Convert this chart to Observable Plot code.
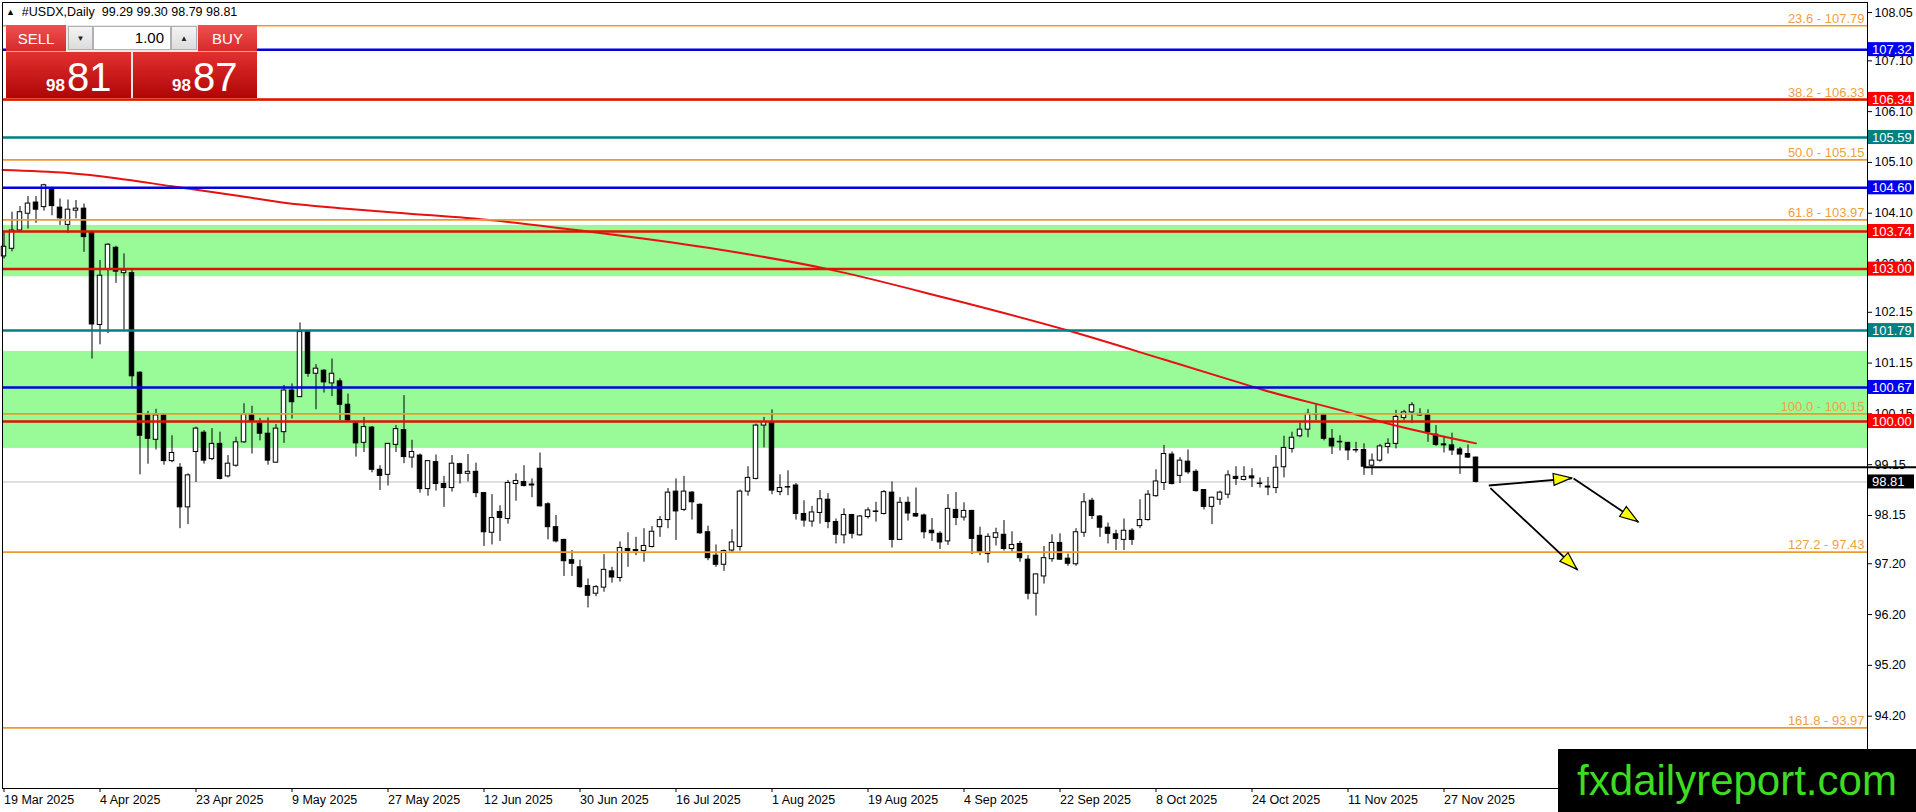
<!DOCTYPE html>
<html><head><meta charset="utf-8">
<script src="https://cdn.jsdelivr.net/npm/d3@7"></script>
<script src="https://cdn.jsdelivr.net/npm/@observablehq/plot@0.6"></script>
<style>
body{margin:0;background:#fff;font-family:"Liberation Sans",Arial,sans-serif;}
#wrap{position:relative;width:1916px;height:812px;overflow:hidden;background:#fff;}
#wrap svg{position:absolute;left:0;top:0;}
.abs{position:absolute;box-sizing:border-box;}
.btn{color:#fff;font-size:15px;display:flex;align-items:center;justify-content:center;background:linear-gradient(#f05050,#d42a2a);border-bottom:1px solid #f7a0a0;}
.gray{background:linear-gradient(#f4f4f4,#dcdcdc);border:1px solid #b0b0b0;font-size:8px;color:#222;display:flex;align-items:center;justify-content:center;}
.pbox{background:linear-gradient(#e23030,#b00606);color:#fff;}
.small{position:absolute;font-weight:bold;font-size:17px;}
.big{position:absolute;font-size:40px;line-height:40px;}
#wm{position:absolute;left:1558px;top:749px;width:358px;height:63px;background:#000;color:#3ddc22;font-size:42px;line-height:63px;text-align:center;font-family:"Liberation Sans",Arial,sans-serif;}
</style></head>
<body><div id="wrap">
</div>
<script>
// ---- data ----
const open  = [103.25,103.40,103.76,104.09,104.31,104.22,104.58,104.21,103.87,104.15,104.19,103.73,101.90,103.00,103.42,102.92,102.92,100.96,100.12,99.64,100.12,99.22,99.09,98.31,99.40,99.78,99.26,99.56,98.92,99.13,99.59,100.14,99.96,99.76,99.19,99.79,100.61,100.48,101.76,100.94,101.00,100.75,100.79,100.33,99.96,99.58,99.88,99.05,98.95,99.54,99.83,99.29,99.33,98.67,99.20,98.77,98.69,99.16,98.97,99.01,98.59,97.81,98.22,98.08,98.77,98.81,98.76,99.07,98.37,97.92,97.67,97.27,97.13,96.76,96.61,96.73,97.05,96.92,97.49,97.47,97.45,97.53,97.92,98.06,98.62,98.26,98.60,98.36,97.82,97.36,97.18,97.46,97.53,98.62,98.87,99.92,99.99,98.61,98.71,98.74,98.18,98.03,98.20,98.46,98.02,97.76,98.16,97.76,98.12,98.23,98.18,98.60,97.67,98.40,98.18,98.15,97.85,97.79,97.64,98.26,98.11,98.24,97.75,97.39,97.71,97.77,97.49,97.59,97.28,96.61,96.95,97.29,97.61,97.30,97.19,97.81,98.44,98.13,97.91,97.78,97.67,97.85,97.94,98.06,98.53,98.79,99.35,98.93,99.21,99.01,98.65,98.32,98.46,98.56,98.91,98.85,98.92,98.78,98.72,98.69,99.10,99.46,99.71,99.84,100.13,100.13,99.66,99.60,99.58,99.44,99.44,99.13,99.23,99.50,99.56,100.07,100.18,100.12,100.14,99.74,99.55,99.53,99.45,99.36,99.29];
const high  = [103.75,104.12,104.23,104.43,104.43,104.67,104.61,104.38,104.36,104.35,104.28,103.75,103.17,103.50,103.45,103.30,102.97,100.98,100.20,100.24,100.14,99.72,99.17,98.97,99.89,99.82,99.86,99.79,99.33,99.69,100.35,100.30,100.06,100.07,99.94,100.71,100.74,101.94,101.78,101.12,101.02,101.23,100.84,100.54,99.99,100.08,99.90,99.13,99.57,99.92,100.51,99.63,99.36,99.23,99.34,98.92,99.33,99.18,99.35,99.18,98.60,98.56,98.34,98.84,98.97,99.13,98.87,99.38,98.40,98.15,97.68,97.46,97.27,96.90,96.77,97.38,97.13,97.63,97.81,97.72,97.89,97.93,98.13,98.68,98.87,98.92,98.62,98.38,97.94,97.57,97.47,97.87,98.65,99.11,99.95,100.08,100.23,98.95,99.03,98.78,98.44,98.33,98.64,98.58,98.08,98.28,98.17,98.15,98.30,98.41,98.64,98.81,98.50,98.51,98.69,98.18,98.09,97.83,98.56,98.60,98.40,98.25,97.92,97.79,97.90,98.05,97.83,97.64,97.36,97.00,97.54,97.77,97.79,97.39,97.89,98.58,98.49,98.15,98.00,97.86,98.08,97.89,98.46,98.64,99.05,99.53,99.40,99.29,99.44,99.05,98.66,98.51,98.63,99.03,99.11,99.11,99.07,98.89,98.90,99.33,99.71,99.79,99.97,100.24,100.33,100.15,99.84,99.72,99.59,99.59,99.56,99.36,99.55,99.66,100.22,100.22,100.37,100.25,100.23,99.92,99.71,99.77,99.49,99.54,99.30];
const low   = [103.20,103.34,103.74,103.79,103.90,104.14,104.05,103.86,103.70,103.99,103.33,101.23,101.51,101.73,102.72,101.80,100.67,98.95,99.16,99.44,99.14,99.19,97.89,97.97,98.80,99.16,99.23,98.85,98.89,99.10,99.57,99.36,99.62,99.14,99.18,99.57,100.05,100.47,100.87,100.23,100.56,100.49,100.02,100.00,99.30,99.39,98.99,98.64,98.73,99.39,99.17,99.08,98.59,98.53,98.63,98.31,98.61,98.77,98.81,98.50,97.54,97.57,97.64,97.98,98.43,98.71,98.50,98.32,97.67,97.61,96.95,96.95,96.72,96.33,96.55,96.64,96.82,96.84,97.13,97.36,97.23,97.51,97.72,97.89,97.66,98.23,98.06,97.78,97.26,97.13,97.05,97.40,97.45,98.53,98.85,99.48,98.56,98.54,98.54,98.06,97.92,97.92,97.98,97.89,97.59,97.59,97.69,97.74,98.08,98.02,98.16,97.51,97.66,98.04,98.11,97.69,97.64,97.48,97.56,97.95,98.04,97.38,97.36,97.21,97.55,97.45,97.43,97.23,96.49,96.17,96.80,97.23,97.27,97.15,97.15,97.72,98.07,97.72,97.59,97.46,97.46,97.56,97.89,98.04,98.51,98.64,98.75,98.78,98.96,98.61,98.26,97.97,98.35,98.48,98.74,98.83,98.70,98.69,98.54,98.58,98.89,99.38,99.68,99.68,100.02,99.62,99.35,99.42,99.23,99.38,98.94,98.94,99.20,99.36,99.46,100.02,99.96,100.10,99.59,99.51,99.38,99.33,98.96,99.27,98.79];
const close = [103.44,103.76,104.12,104.29,104.17,104.65,104.24,104.00,104.17,104.19,103.63,101.91,102.87,103.48,102.95,102.97,100.89,99.72,99.66,100.12,99.22,99.38,98.31,98.94,99.86,99.23,99.56,98.87,99.17,99.59,100.14,99.99,99.76,99.23,99.86,100.61,100.38,101.76,100.94,101.04,100.77,100.94,100.33,100.02,99.57,99.89,99.05,98.93,99.56,99.85,99.30,99.40,98.67,99.22,98.77,98.69,99.17,98.97,99.01,98.59,97.82,98.10,98.10,98.79,98.83,98.73,98.74,98.33,97.92,97.64,97.25,97.20,96.74,96.57,96.74,97.08,96.93,97.51,97.45,97.45,97.55,97.83,98.06,98.60,98.23,98.62,98.41,97.80,97.31,97.18,97.45,97.62,98.62,98.89,99.92,99.99,98.64,98.69,98.70,98.18,98.05,98.21,98.47,98.02,97.77,98.16,97.79,98.13,98.25,98.22,98.61,97.67,98.40,98.19,98.13,97.82,97.80,97.62,98.28,98.10,98.24,97.69,97.43,97.73,97.80,97.49,97.57,97.31,96.61,96.99,97.31,97.61,97.28,97.20,97.82,98.41,98.14,97.91,97.79,97.69,97.85,97.67,98.06,98.56,98.82,99.36,98.77,99.23,99.00,98.63,98.32,98.50,98.60,98.94,98.87,98.91,98.88,98.77,98.70,99.09,99.48,99.68,99.84,100.15,100.14,99.66,99.51,99.59,99.43,99.43,99.11,99.23,99.51,99.56,100.09,100.18,100.32,100.15,99.79,99.54,99.53,99.43,99.35,99.29,98.81];

const maIdx = [-0.18, 8, 14, 21, 29, 37, 42, 50, 61, 73, 88, 103, 118, 133, 145, 153.5, 157, 168.5, 172, 184];
const maVal = [104.95,104.89,104.79,104.63,104.45,104.27,104.20,104.10,103.96,103.74,103.42,103.00,102.42,101.79,101.22,100.81,100.64,100.16,100.00,99.57];

const dateIdx = [0,12,24,36,48,60,72,84,96,108,120,132,144,156,168,180];
const dateLbl = ["19 Mar 2025","4 Apr 2025","23 Apr 2025","9 May 2025","27 May 2025","12 Jun 2025","30 Jun 2025","16 Jul 2025","1 Aug 2025","19 Aug 2025","4 Sep 2025","22 Sep 2025","8 Oct 2025","24 Oct 2025","11 Nov 2025","27 Nov 2025"];
const yTicks = [108.05,107.10,106.10,105.10,104.10,103.10,102.15,101.15,100.15,99.15,98.15,97.20,96.20,95.20,94.20];

const fibVal = [107.79,106.33,105.15,103.97,100.15,97.43,93.97];
const fibLbl = ["23.6 - 107.79","38.2 - 106.33","50.0 - 105.15","61.8 - 103.97","100.0 - 100.15","127.2 - 97.43","161.8 - 93.97"];
const blueVal = [107.32,104.60,100.67];
const redVal = [106.34,103.74,103.00,100.00];
const tealVal = [105.59,101.79];
const zoneLo = [102.85,99.47];
const zoneHi = [103.86,101.38];
const bidPrice = 98.81;
const supportVal = 99.10, supportFrom = 170;
const tagVal = [107.32,106.34,105.59,104.60,103.74,103.00,101.79,100.67,100.00,98.81];
const tagKind = ["blue","red","teal","blue","red","red","teal","blue","red","bid"];
const arrowX1 = [185.6,196.2,185.8];
const arrowY1 = [98.74,98.88,98.69];
const arrowX2 = [196.0,204.3,196.7];
const arrowY2 = [98.88,98.02,97.08];

// ---- build ----
const C = {blue:"#0000e0", red:"#e01200", teal:"#008080", orange:"#ec9a30", fibText:"#f0a044", zone:"#98fb98"};
const tagBg = {blue:"#0000f0", red:"#ff0000", teal:"#008080", bid:"#000000"};
const xDom = [-0.1875, 232.9375];
const candles = open.map((o,i)=>({i, o, h:high[i], l:low[i], c:close[i]}));
const ma = maIdx.map((x,k)=>({x, y:maVal[k]}));
const zones = zoneLo.map((lo,k)=>({lo, hi:zoneHi[k]}));
const fibs = fibVal.map((v,k)=>({v, t:fibLbl[k]}));

const plot = Plot.plot({
  width:1916, height:812,
  marginLeft:2, marginRight:49, marginTop:2, marginBottom:24,
  x:{domain:xDom, axis:null},
  y:{domain:[92.776,108.248], axis:null},
  style:{fontFamily:"Liberation Sans, Arial, sans-serif", fontSize:"12.5px", background:"transparent", overflow:"visible", color:"black"},
  marks:[
    Plot.rect(zones, {x1:xDom[0], x2:xDom[1], y1:"lo", y2:"hi", fill:C.zone}),
    Plot.ruleY([bidPrice], {stroke:"#c0c0c0", strokeWidth:1}),
    Plot.ruleX(candles, {x:"i", y1:"l", y2:"h", stroke:"black", strokeWidth:1}),
    Plot.rect(candles, {x1:d=>d.i-0.28, x2:d=>d.i+0.28, y1:d=>Math.min(d.o,d.c), y2:d=>Math.max(d.o,d.c),
      fill:d=>d.c<d.o?"black":"white", stroke:"black", strokeWidth:1}),
    Plot.line(ma, {x:"x", y:"y", stroke:"#e81010", strokeWidth:2, curve:"monotone-x"}),
    Plot.ruleY(fibVal, {stroke:C.orange, strokeWidth:1.7}),
    Plot.ruleY(blueVal, {stroke:C.blue, strokeWidth:2.5}),
    Plot.ruleY(redVal, {stroke:C.red, strokeWidth:2.5}),
    Plot.ruleY(tealVal, {stroke:C.teal, strokeWidth:2.5}),
    Plot.ruleY([supportVal], {x1:supportFrom, x2:240, stroke:"black", strokeWidth:2}),
    Plot.text(fibs, {x:xDom[1], y:"v", text:"t", textAnchor:"end", dx:-3, dy:-7, fill:C.fibText, fontSize:13}),
    Plot.link(arrowX1.map((x,k)=>({x1:x, y1:arrowY1[k], x2:arrowX2[k], y2:arrowY2[k]})), {x1:"x1", y1:"y1", x2:"x2", y2:"y2", stroke:"black", strokeWidth:1.8}),
    Plot.frame({stroke:"black", strokeWidth:1}),
    Plot.axisY({anchor:"right", ticks:yTicks, tickFormat:d=>d.toFixed(2), tickSize:4, tickPadding:3, fontSize:12.5, label:null}),
    Plot.axisX({anchor:"bottom", ticks:dateIdx, tickFormat:i=>dateLbl[dateIdx.indexOf(i)], tickSize:4, tickPadding:3, textAnchor:"start", fontSize:12.5, label:null})
  ]
});

const wrap = document.getElementById("wrap");
wrap.appendChild(plot);

// price tags and arrowheads through Plot's scales
const sx = plot.scale("x"), sy = plot.scale("y");
const svg = d3.select(plot);
const g = svg.append("g").attr("text-anchor","start");
tagVal.forEach((v,k)=>{
  const y = sy.apply(v);
  g.append("rect").attr("x",1868).attr("y",y-7).attr("width",46).attr("height",14).attr("fill",tagBg[tagKind[k]]);
  g.append("text").attr("x",1872).attr("y",y).attr("dy","0.36em").attr("fill","white").attr("text-anchor","start")
    .attr("font-size",13).attr("font-family","Liberation Sans, Arial, sans-serif").text(v.toFixed(2));
});
arrowX1.forEach((x,k)=>{
  const ax = sx.apply(x), ay = sy.apply(arrowY1[k]);
  const bx = sx.apply(arrowX2[k]), by = sy.apply(arrowY2[k]);
  const ang = Math.atan2(by-ay, bx-ax);
  const L = 18, W = 6;
  const cx = bx - L*Math.cos(ang), cy = by - L*Math.sin(ang);
  const px = -Math.sin(ang)*W, py = Math.cos(ang)*W;
  g.append("polygon").attr("points", `${bx},${by} ${cx+px},${cy+py} ${cx-px},${cy-py}`)
    .attr("fill","#ffff00").attr("stroke","black").attr("stroke-width",1.2);
});

// header + trade panel + watermark
wrap.insertAdjacentHTML("beforeend", `
<div class="abs" style="left:6px;top:5px;font-size:12.5px;white-space:pre;color:#000;"><span style="font-size:9px;vertical-align:1px;">▲</span>  #USDX,Daily  99.29 99.30 98.79 98.81</div>
<div class="abs" style="left:6px;top:25px;width:251px;height:73px;background:#e9e9e9;"></div>
<div class="abs btn" style="left:6px;top:25px;width:60px;height:27px;">SELL</div>
<div class="abs gray" style="left:68px;top:26px;width:25px;height:24px;">▼</div>
<div class="abs" style="left:93px;top:26px;width:78px;height:24px;background:#fff;border:1px solid #b0b0b0;font-size:15px;text-align:right;padding-right:6px;line-height:22px;">1.00</div>
<div class="abs gray" style="left:171px;top:26px;width:26px;height:24px;">▲</div>
<div class="abs btn" style="left:198px;top:25px;width:59px;height:27px;">BUY</div>
<div class="abs pbox" style="left:6px;top:52px;width:125px;height:46px;">
  <span class="small" style="left:40px;top:24px;">98</span><span class="big" style="left:61px;top:5px;">81</span></div>
<div class="abs pbox" style="left:133px;top:52px;width:124px;height:46px;">
  <span class="small" style="left:39px;top:24px;">98</span><span class="big" style="left:60px;top:5px;">87</span></div>
<div id="wm">fxdailyreport.com</div>
`);
</script>
</body></html>
